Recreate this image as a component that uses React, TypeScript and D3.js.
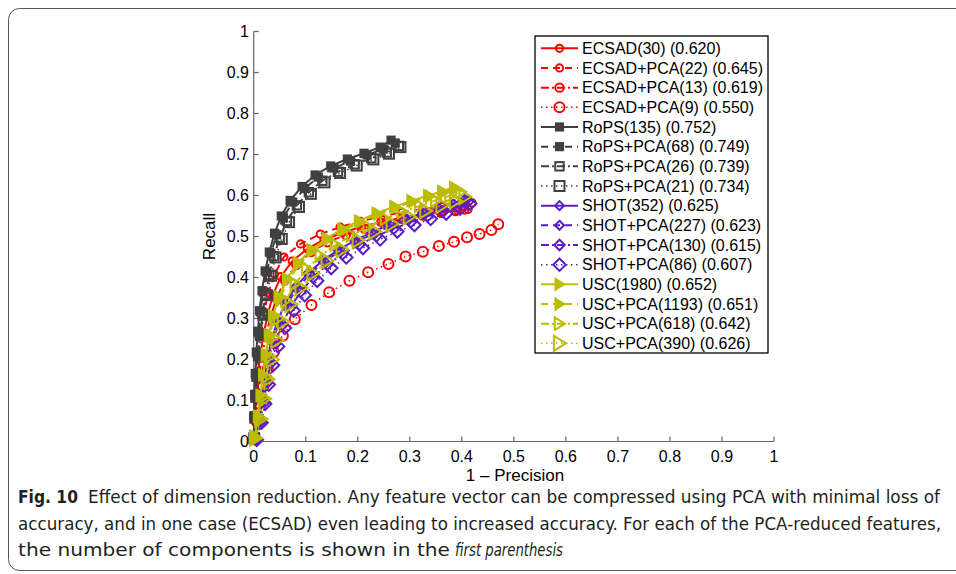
import React from 'react';
import * as d3 from 'd3';

type Pt = [number, number];

// [1 - precision, recall]
const ecsad30: Pt[] = [[0.000,0.010],[0.002,0.060],[0.004,0.112],[0.008,0.163],[0.013,0.213],[0.019,0.262],[0.027,0.310],[0.037,0.357],[0.052,0.402],[0.074,0.440],[0.103,0.470],[0.135,0.492],[0.170,0.509],[0.206,0.523],[0.244,0.535],[0.283,0.545],[0.322,0.553],[0.360,0.559],[0.392,0.563],[0.412,0.566]];
const ecsadPca22: Pt[] = [[0.000,0.012],[0.001,0.063],[0.002,0.116],[0.004,0.168],[0.008,0.219],[0.013,0.268],[0.020,0.316],[0.028,0.362],[0.040,0.408],[0.058,0.450],[0.090,0.482],[0.128,0.506],[0.166,0.523],[0.205,0.537],[0.245,0.549],[0.285,0.559],[0.325,0.567],[0.362,0.573],[0.395,0.578],[0.420,0.582]];
const ecsadPca13: Pt[] = [[0.001,0.010],[0.003,0.058],[0.006,0.108],[0.010,0.158],[0.016,0.207],[0.023,0.256],[0.032,0.303],[0.044,0.349],[0.060,0.393],[0.082,0.431],[0.110,0.462],[0.142,0.486],[0.177,0.504],[0.213,0.519],[0.250,0.531],[0.288,0.542],[0.325,0.551],[0.360,0.558],[0.388,0.562],[0.405,0.566]];
const ecsadPca9: Pt[] = [[0.002,0.005],[0.006,0.048],[0.011,0.092],[0.018,0.135],[0.027,0.177],[0.039,0.218],[0.056,0.258],[0.079,0.298],[0.111,0.333],[0.145,0.364],[0.184,0.392],[0.220,0.413],[0.259,0.433],[0.292,0.451],[0.325,0.463],[0.356,0.477],[0.385,0.487],[0.410,0.498],[0.434,0.506],[0.457,0.516],[0.470,0.530]];

const rops135: Pt[] = [[0.000,0.010],[0.001,0.063],[0.002,0.115],[0.003,0.166],[0.005,0.218],[0.008,0.269],[0.011,0.319],[0.016,0.368],[0.022,0.416],[0.030,0.462],[0.040,0.508],[0.053,0.550],[0.070,0.588],[0.093,0.622],[0.118,0.650],[0.148,0.672],[0.180,0.689],[0.212,0.703],[0.243,0.718],[0.264,0.735]];
const ropsPca68: Pt[] = [[0.000,0.009],[0.001,0.061],[0.002,0.113],[0.004,0.164],[0.006,0.216],[0.009,0.266],[0.013,0.316],[0.018,0.365],[0.025,0.413],[0.033,0.459],[0.044,0.504],[0.057,0.546],[0.075,0.584],[0.098,0.617],[0.124,0.645],[0.154,0.667],[0.186,0.684],[0.218,0.699],[0.249,0.713],[0.272,0.728]];
const ropsPca26: Pt[] = [[0.001,0.008],[0.002,0.059],[0.004,0.110],[0.006,0.161],[0.009,0.212],[0.012,0.262],[0.017,0.311],[0.023,0.359],[0.030,0.406],[0.039,0.452],[0.050,0.497],[0.064,0.538],[0.083,0.576],[0.106,0.608],[0.132,0.636],[0.162,0.658],[0.194,0.676],[0.226,0.691],[0.256,0.705],[0.279,0.721]];
const ropsPca21: Pt[] = [[0.001,0.008],[0.003,0.058],[0.005,0.109],[0.007,0.160],[0.010,0.210],[0.014,0.260],[0.019,0.309],[0.025,0.357],[0.033,0.404],[0.042,0.449],[0.054,0.494],[0.068,0.535],[0.087,0.572],[0.110,0.604],[0.136,0.632],[0.166,0.655],[0.198,0.673],[0.230,0.688],[0.260,0.702],[0.282,0.718]];

const shot352: Pt[] = [[0.004,0.005],[0.010,0.050],[0.015,0.098],[0.020,0.147],[0.026,0.196],[0.034,0.245],[0.045,0.292],[0.060,0.336],[0.080,0.376],[0.104,0.410],[0.132,0.441],[0.162,0.467],[0.194,0.490],[0.227,0.510],[0.260,0.528],[0.293,0.544],[0.325,0.557],[0.355,0.569],[0.383,0.579],[0.405,0.590]];
const shotPca227: Pt[] = [[0.004,0.005],[0.011,0.049],[0.016,0.097],[0.022,0.146],[0.028,0.194],[0.036,0.242],[0.048,0.289],[0.063,0.333],[0.083,0.373],[0.107,0.407],[0.135,0.438],[0.165,0.464],[0.197,0.487],[0.230,0.507],[0.263,0.525],[0.296,0.541],[0.328,0.555],[0.358,0.566],[0.386,0.577],[0.408,0.588]];
const shotPca130: Pt[] = [[0.005,0.004],[0.013,0.047],[0.019,0.094],[0.025,0.142],[0.032,0.190],[0.041,0.237],[0.054,0.283],[0.070,0.326],[0.090,0.365],[0.114,0.400],[0.141,0.431],[0.171,0.457],[0.203,0.480],[0.236,0.501],[0.269,0.519],[0.302,0.535],[0.334,0.549],[0.364,0.561],[0.392,0.572],[0.412,0.585]];
const shotPca86: Pt[] = [[0.006,0.004],[0.015,0.046],[0.022,0.092],[0.029,0.139],[0.037,0.186],[0.047,0.232],[0.060,0.277],[0.077,0.319],[0.098,0.357],[0.122,0.392],[0.149,0.423],[0.178,0.449],[0.210,0.472],[0.243,0.493],[0.276,0.512],[0.309,0.528],[0.340,0.543],[0.370,0.556],[0.397,0.568],[0.416,0.580]];

const usc1980: Pt[] = [[0.002,0.012],[0.008,0.062],[0.013,0.113],[0.018,0.163],[0.023,0.212],[0.029,0.260],[0.037,0.307],[0.048,0.353],[0.064,0.397],[0.085,0.436],[0.111,0.468],[0.140,0.495],[0.170,0.518],[0.202,0.538],[0.236,0.557],[0.270,0.573],[0.303,0.587],[0.335,0.600],[0.362,0.610],[0.385,0.620]];
const uscPca1193: Pt[] = [[0.002,0.012],[0.009,0.061],[0.014,0.112],[0.019,0.162],[0.024,0.210],[0.031,0.258],[0.039,0.305],[0.051,0.351],[0.067,0.395],[0.089,0.434],[0.115,0.466],[0.144,0.493],[0.174,0.516],[0.206,0.536],[0.240,0.555],[0.274,0.571],[0.307,0.585],[0.339,0.598],[0.366,0.608],[0.389,0.617]];
const uscPca618: Pt[] = [[0.003,0.010],[0.012,0.058],[0.018,0.108],[0.024,0.157],[0.030,0.206],[0.038,0.254],[0.048,0.300],[0.062,0.344],[0.080,0.385],[0.102,0.421],[0.128,0.453],[0.157,0.480],[0.188,0.503],[0.220,0.524],[0.253,0.543],[0.286,0.560],[0.319,0.575],[0.350,0.588],[0.377,0.599],[0.398,0.609]];
const uscPca390: Pt[] = [[0.004,0.008],[0.014,0.055],[0.021,0.104],[0.028,0.152],[0.036,0.200],[0.045,0.247],[0.057,0.292],[0.072,0.335],[0.091,0.375],[0.114,0.410],[0.141,0.441],[0.170,0.468],[0.201,0.491],[0.233,0.512],[0.266,0.531],[0.299,0.548],[0.331,0.563],[0.362,0.576],[0.388,0.587],[0.406,0.597]];

const seriesData = [
  ecsad30, ecsadPca22, ecsadPca13, ecsadPca9,
  rops135, ropsPca68, ropsPca26, ropsPca21,
  shot352, shotPca227, shotPca130, shotPca86,
  usc1980, uscPca1193, uscPca618, uscPca390,
];

const seriesLabels = [
  'ECSAD(30) (0.620)', 'ECSAD+PCA(22) (0.645)', 'ECSAD+PCA(13) (0.619)', 'ECSAD+PCA(9) (0.550)',
  'RoPS(135) (0.752)', 'RoPS+PCA(68) (0.749)', 'RoPS+PCA(26) (0.739)', 'RoPS+PCA(21) (0.734)',
  'SHOT(352) (0.625)', 'SHOT+PCA(227) (0.623)', 'SHOT+PCA(130) (0.615)', 'SHOT+PCA(86) (0.607)',
  'USC(1980) (0.652)', 'USC+PCA(1193) (0.651)', 'USC+PCA(618) (0.642)', 'USC+PCA(390) (0.626)',
];

const xTicks = [0, 0.1, 0.2, 0.3, 0.4, 0.5, 0.6, 0.7, 0.8, 0.9, 1];
const yTicks = [0, 0.1, 0.2, 0.3, 0.4, 0.5, 0.6, 0.7, 0.8, 0.9, 1];
const tickLabels = ['0', '0.1', '0.2', '0.3', '0.4', '0.5', '0.6', '0.7', '0.8', '0.9', '1'];

// styles, one per family / per line variant
const familyColors = ['#ff0000', '#404040', '#5c1ec4', '#bcbc00'];
const familyMarkers = ['circle', 'square', 'diamond', 'triangle'];
const variantDash = [undefined, '7 5', '8 3 2 3', '1.5 3.5'];
const variantWidth = [2, 2, 2, 1.5];
const variantScale = [0.9, 0.9, 1.05, 1.25];
const variantFilled = [true, true, false, false];

const FONT = "'Liberation Sans', Arial, Helvetica, sans-serif";
const CAPTION_FONT = "'Liberation Sans Narrow', 'DejaVu Sans Condensed', 'Liberation Sans', sans-serif";

const Marker = ({ kind, cx, cy, color, v }: { kind: string; cx: number; cy: number; color: string; v: number }) => {
  const s = variantScale[v];
  const filled = variantFilled[v] && (kind === 'square' || kind === 'triangle');
  const fill = filled ? color : 'none';
  const sw = 2;
  if (kind === 'circle') {
    return <circle cx={cx} cy={cy} r={4 * s} fill="none" stroke={color} strokeWidth={sw} />;
  }
  if (kind === 'square') {
    const h = 4 * s;
    return <rect x={cx - h} y={cy - h} width={2 * h} height={2 * h} fill={fill} stroke={color} strokeWidth={sw} />;
  }
  if (kind === 'diamond') {
    const h = 5 * s;
    return <path d={`M${cx},${cy - h}L${cx + h},${cy}L${cx},${cy + h}L${cx - h},${cy}Z`} fill="none" stroke={color} strokeWidth={sw} />;
  }
  const h = 6 * s;
  return <path d={`M${cx - h * 0.75},${cy - h}L${cx + h * 0.85},${cy}L${cx - h * 0.75},${cy + h}Z`} fill={fill} stroke={color} strokeWidth={sw} strokeLinejoin="miter" />;
};

const App = () => {
  const x = d3.scaleLinear().domain([0, 1]).range([253.7, 774]);
  const y = d3.scaleLinear().domain([0, 1]).range([441.5, 31.5]);
  const line = d3.line<Pt>().x(d => x(d[0])).y(d => y(d[1]));

  const legend = { x0: 535, y0: 36, x1: 768, y1: 353, row0: 48.3, step: 19.67 };

  return (
    <svg width={956} height={574} style={{ position: 'absolute', left: 0, top: 0, background: '#fff' }} fontFamily={FONT}>
      <rect x={8.5} y={8.5} width={1000} height={562} rx={11} fill="none" stroke="#555" strokeWidth={1} />

      {/* axes */}
      <line x1={x(0)} x2={x(1)} y1={y(0)} y2={y(0)} stroke="#666" strokeWidth={1.2} />
      <line x1={x(0)} x2={x(0)} y1={y(0)} y2={y(1)} stroke="#666" strokeWidth={1.2} />
      {xTicks.map((t, i) => (
        <g key={'xt' + i}>
          <line x1={x(t)} x2={x(t)} y1={y(0)} y2={y(0) - 5} stroke="#666" strokeWidth={1.2} />
          <text x={x(t)} y={462} textAnchor="middle" fontSize={16} fill="#000">{tickLabels[i]}</text>
        </g>
      ))}
      {yTicks.map((t, i) => (
        <g key={'yt' + i}>
          <line x1={x(0)} x2={x(0) + 5} y1={y(t)} y2={y(t)} stroke="#666" strokeWidth={1.2} />
          <text x={249} y={y(t) + 5.7} textAnchor="end" fontSize={16} fill="#000">{tickLabels[i]}</text>
        </g>
      ))}
      <text x={515} y={481} textAnchor="middle" fontSize={17} fill="#000">1 – Precision</text>
      <text transform="translate(215,236.5) rotate(-90)" textAnchor="middle" fontSize={17} fill="#000">Recall</text>

      {/* curves */}
      {seriesData.map((pts, i) => {
        const f = Math.floor(i / 4);
        const v = i % 4;
        const color = familyColors[f];
        return (
          <g key={'s' + i}>
            <path d={line(pts) || ''} fill="none" stroke={color} strokeWidth={variantWidth[v]} strokeDasharray={variantDash[v]} />
            {pts.map((p, j) => (
              <Marker key={j} kind={familyMarkers[f]} cx={x(p[0])} cy={y(p[1])} color={color} v={v} />
            ))}
          </g>
        );
      })}

      {/* legend */}
      <rect x={legend.x0} y={legend.y0} width={legend.x1 - legend.x0} height={legend.y1 - legend.y0} fill="#fff" stroke="#000" strokeWidth={1.3} />
      {seriesLabels.map((lab, i) => {
        const f = Math.floor(i / 4);
        const v = i % 4;
        const cy = legend.row0 + i * legend.step;
        const color = familyColors[f];
        return (
          <g key={'l' + i}>
            <line x1={541} x2={578} y1={cy} y2={cy} stroke={color} strokeWidth={variantWidth[v]} strokeDasharray={variantDash[v]} />
            <Marker kind={familyMarkers[f]} cx={559.5} cy={cy} color={color} v={v} />
            <text x={582} y={cy + 5.7} fontSize={16} fill="#000">{lab}</text>
          </g>
        );
      })}

      {/* caption */}
      <g fontFamily={CAPTION_FONT} fontSize={18.5} fill="#231f20">
        <text x={18} y={503} fontWeight="bold" textLength={60} lengthAdjust="spacingAndGlyphs">Fig. 10</text>
        <text x={88} y={503} textLength={852} lengthAdjust="spacingAndGlyphs">Effect of dimension reduction. Any feature vector can be compressed using PCA with minimal loss of</text>
        <text x={18} y={530} textLength={923} lengthAdjust="spacingAndGlyphs">accuracy, and in one case (ECSAD) even leading to increased accuracy. For each of the PCA-reduced features,</text>
        <text x={18} y={556} textLength={432} lengthAdjust="spacingAndGlyphs">the number of components is shown in the</text>
        <text x={455} y={556} fontStyle="italic" textLength={108} lengthAdjust="spacingAndGlyphs">first parenthesis</text>
      </g>
    </svg>
  );
};

export default App;
